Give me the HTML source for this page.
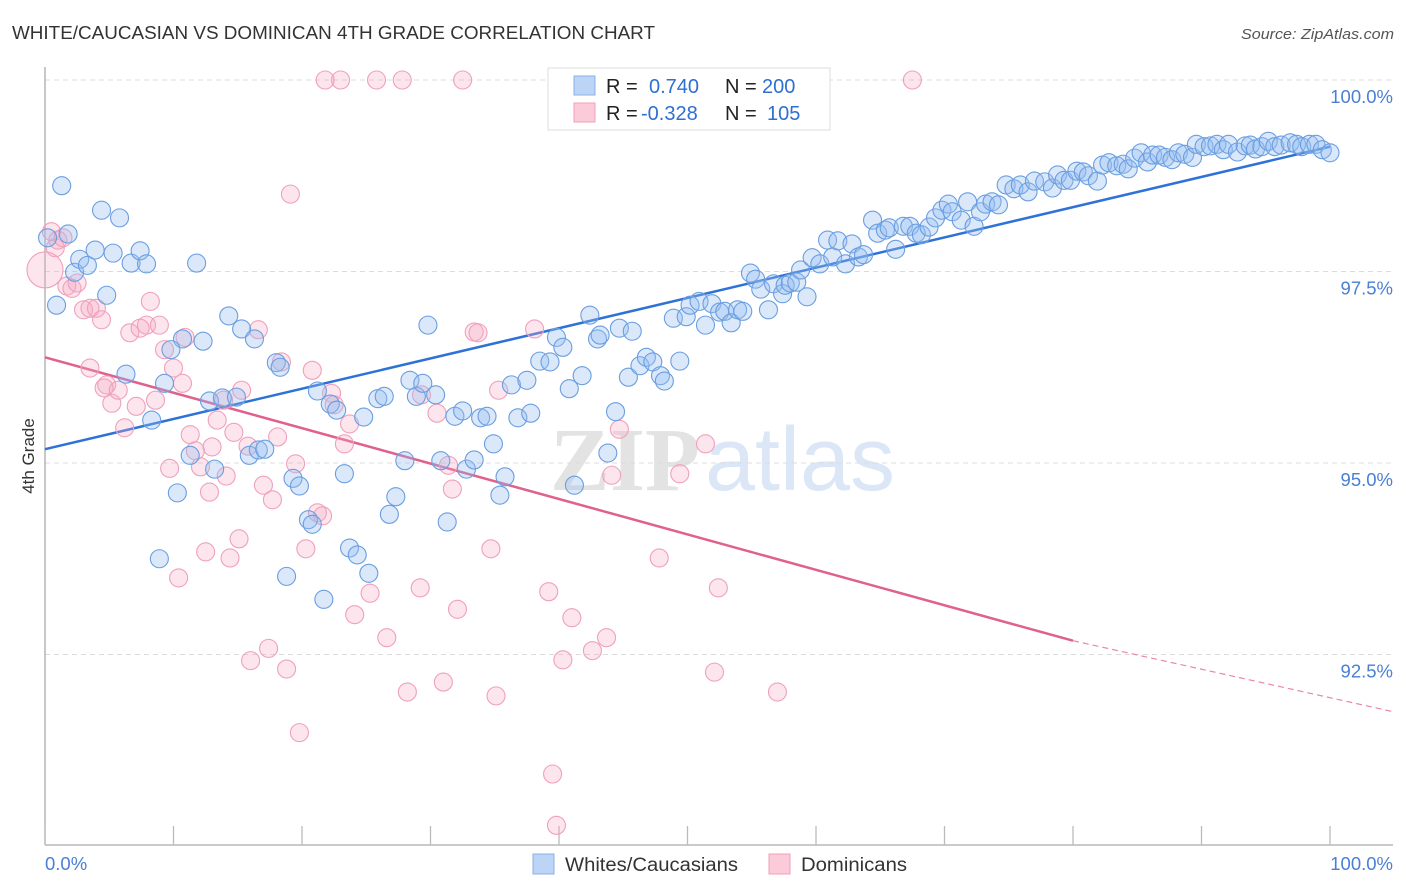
<!DOCTYPE html>
<html><head><meta charset="utf-8"><style>
body{margin:0;background:#fff;font-family:"Liberation Sans",sans-serif;}
svg{display:block}
</style></head><body>
<svg id="chart" width="1406" height="892" xmlns="http://www.w3.org/2000/svg">
<text x="12" y="39" font-size="18" fill="#333" textLength="643" lengthAdjust="spacingAndGlyphs">WHITE/CAUCASIAN VS DOMINICAN 4TH GRADE CORRELATION CHART</text>
<text x="1241" y="39" font-size="15" fill="#555" font-style="italic" textLength="153" lengthAdjust="spacingAndGlyphs">Source: ZipAtlas.com</text>
<g font-size="90" text-anchor="middle">
<text x="625" y="490" fill="#c8c8c8" font-family="Liberation Serif, serif" font-weight="bold" opacity="0.5">ZIP</text>
<text x="800" y="490" fill="#b8d0ee" opacity="0.5">atlas</text>
</g>
<g id="grid"></g>
<g id="axes"></g>
<g id="trend"></g>
<g id="pinkpts"></g>
<g id="bluepts"></g>
<text transform="translate(34,456) rotate(-90)" font-size="17" fill="#333" text-anchor="middle">4th Grade</text>
<g>
<rect x="548" y="68" width="282" height="62" fill="#fff" stroke="#ddd"/>
<rect x="574" y="76" width="21" height="19" fill="#bcd5f6" stroke="#88b0e8"/>
<rect x="574" y="103" width="21" height="19" fill="#fbcbd9" stroke="#f0a0b8"/>
<text x="606" y="93" font-size="20" fill="#222">R = </text><text x="649" y="93" font-size="20" fill="#2f6fd0">0.740</text>
<text x="725" y="93" font-size="20" fill="#222">N = </text><text x="762" y="93" font-size="20" fill="#2f6fd0">200</text>
<text x="606" y="120" font-size="20" fill="#222">R = </text><text x="641" y="120" font-size="20" fill="#2f6fd0">-0.328</text>
<text x="725" y="120" font-size="20" fill="#222">N = </text><text x="767" y="120" font-size="20" fill="#2f6fd0">105</text>
</g>
<g>
<rect x="533" y="854" width="21" height="20" fill="#bcd5f6" stroke="#88b0e8"/>
<text x="565" y="871" font-size="19" fill="#333" textLength="173" lengthAdjust="spacingAndGlyphs">Whites/Caucasians</text>
<rect x="769" y="854" width="21" height="20" fill="#fbcbd9" stroke="#f0a0b8"/>
<text x="801" y="871" font-size="19" fill="#333" textLength="106" lengthAdjust="spacingAndGlyphs">Dominicans</text>
</g>
</svg>
<script>
const blueX=[1.3,0.2,1.8,4.4,5.8,0.9,2.3,2.7,3.3,3.9,5.3,4.8,6.7,7.4,7.9,11.8,6.3,8.3,9.3,10.7,9.8,12.3,10.3,8.9,14.3,15.3,16.3,12.8,13.8,14.9,11.3,13.2,15.9,16.6,17.1,18.0,18.3,18.8,19.3,19.8,20.5,20.8,21.7,21.2,22.2,22.7,23.3,23.7,24.3,25.2,24.8,25.9,26.4,26.8,27.3,28.0,28.4,28.9,29.4,30.4,29.8,30.8,31.3,31.9,32.5,32.8,33.4,33.9,34.4,34.9,35.4,35.8,36.3,36.8,37.5,37.8,38.5,39.3,39.8,40.3,40.8,41.2,41.8,42.4,43.0,43.2,43.8,44.4,44.7,45.4,45.7,46.3,46.8,47.3,47.9,48.2,48.9,49.4,49.9,50.2,50.9,51.4,51.9,52.5,52.9,53.4,53.9,54.3,54.9,55.3,55.7,56.3,56.7,57.4,57.6,58.0,58.5,59.3,58.8,59.7,60.3,60.9,61.3,61.7,62.3,62.8,63.3,63.7,64.4,64.8,65.4,65.7,66.2,66.8,67.3,67.8,68.2,68.8,69.3,69.8,70.3,70.6,71.3,71.8,72.3,72.8,73.2,73.7,74.2,74.8,75.4,75.9,76.5,77.0,77.8,78.4,78.8,79.3,79.8,80.3,80.8,81.2,81.9,82.3,82.8,83.4,83.9,84.3,84.8,85.3,85.8,86.2,86.7,87.2,87.7,88.2,88.7,89.3,89.6,90.2,90.7,91.2,91.7,92.1,92.8,93.4,93.8,94.2,94.7,95.2,95.7,96.2,96.9,97.4,97.8,98.4,98.9,99.4,100.0];
const blueY=[98.62,97.94,97.99,98.30,98.20,97.06,97.49,97.66,97.58,97.78,97.74,97.19,97.61,97.77,97.60,97.61,96.16,95.56,96.04,96.62,96.48,96.59,94.61,93.75,96.92,96.75,96.62,95.81,95.85,95.86,95.10,94.92,95.10,95.17,95.18,96.31,96.25,93.52,94.80,94.70,94.26,94.20,93.22,95.94,95.77,95.69,94.86,93.89,93.80,93.56,95.60,95.84,95.87,94.33,94.56,95.03,96.08,95.87,96.04,95.89,96.80,95.03,94.23,95.61,95.68,94.92,95.04,95.59,95.61,95.25,94.58,94.82,96.02,95.59,96.08,95.65,96.33,96.32,96.64,96.51,95.97,94.71,96.14,96.93,96.62,96.67,95.13,95.67,96.76,96.12,96.72,96.27,96.38,96.32,96.14,96.07,96.89,96.33,96.91,97.06,97.11,96.80,97.08,96.97,96.98,96.83,97.00,96.98,97.48,97.40,97.27,97.00,97.34,97.21,97.32,97.35,97.36,97.17,97.52,97.68,97.60,97.91,97.69,97.90,97.60,97.86,97.69,97.72,98.17,98.00,98.04,98.07,97.79,98.09,98.09,98.00,97.98,98.08,98.20,98.30,98.38,98.28,98.17,98.41,98.09,98.28,98.38,98.41,98.37,98.63,98.58,98.63,98.54,98.68,98.67,98.59,98.76,98.69,98.69,98.81,98.80,98.75,98.68,98.89,98.92,98.88,98.90,98.84,98.98,99.05,98.93,99.02,99.02,98.99,98.96,99.05,99.03,98.99,99.16,99.13,99.14,99.16,99.09,99.16,99.06,99.14,99.15,99.10,99.13,99.20,99.13,99.15,99.18,99.16,99.13,99.16,99.16,99.09,99.05];
const pinkX=[0,0.5,1.0,0.8,1.4,1.7,2.1,2.5,3.0,3.5,4.0,4.4,3.5,4.8,4.6,5.2,5.7,6.2,6.6,7.1,7.4,7.9,8.2,8.6,8.9,9.3,9.7,10.0,10.4,10.7,10.9,11.3,11.7,12.1,12.5,12.8,13.0,13.4,13.9,14.1,14.4,14.7,15.1,15.3,15.8,16.0,16.6,17.0,17.4,17.7,18.1,18.4,18.8,19.1,19.5,19.8,20.3,20.8,21.2,21.6,21.8,22.3,22.5,23.0,23.3,23.7,24.1,25.3,25.8,26.6,27.8,28.2,29.2,29.3,30.5,31.0,31.4,31.7,32.1,32.5,33.4,33.7,34.7,35.1,35.3,38.1,39.2,39.5,39.8,40.3,41.0,42.6,43.7,44.1,44.7,47.8,49.4,51.4,52.1,52.4,57.0,67.5];
const pinkY=[97.52,98.02,97.91,97.81,97.94,97.31,97.28,97.35,97.00,97.02,97.02,96.87,96.24,96.02,95.98,95.78,95.95,95.46,96.70,95.74,96.76,96.80,97.11,95.82,96.80,96.48,94.93,96.24,93.50,96.04,96.64,95.37,95.16,94.95,93.84,94.62,95.21,95.56,95.82,94.83,93.76,95.40,94.01,95.95,95.22,92.42,96.74,94.71,92.58,94.52,95.34,96.32,92.31,98.51,94.99,91.48,93.88,96.21,94.35,94.31,100,95.91,95.76,100,95.25,95.51,93.02,93.30,100,92.72,100,92.01,93.37,95.89,95.65,92.14,94.97,94.66,93.09,100,96.71,96.70,93.88,91.96,95.95,96.75,93.32,90.94,90.27,92.43,92.98,92.55,92.72,94.84,95.44,93.76,94.86,95.25,92.27,93.37,92.01,100];
const blueTrendX=[0,100], blueTrendY=[95.18,99.13];
const pinkTrendX=[0,80], pinkTrendY=[96.38,92.68];
const pinkDashX=[80,105], pinkDashY=[92.68,91.75];
const yTicks=[100,97.5,95,92.5];
const yTickLabels=["100.0%","97.5%","95.0%","92.5%"];
const xTicks=[0,10,20,30,40,50,60,70,80,90,100];

const NS="http://www.w3.org/2000/svg";
const sx=v=>45+v*12.85;
const sy=v=>80+(100-v)*76.6;
function mk(tag,attrs,parent){const e=document.createElementNS(NS,tag);for(const k in attrs)e.setAttribute(k,attrs[k]);parent.appendChild(e);return e;}
const grid=document.getElementById('grid'),axes=document.getElementById('axes');
yTicks.forEach((t,i)=>{
  const l=mk('line',{x1:45,x2:1393,y1:sy(t),y2:sy(t),stroke:'#dcdcdc','stroke-dasharray':'5,4'},grid);
  
  
  const tx=mk('text',{x:1393,y:sy(t)+23,'font-size':18.5,fill:'#4a7fd4','text-anchor':'end'},grid);
  tx.textContent=yTickLabels[i];
  
  
});
const ya=mk('line',{x1:45,x2:45,y1:67,y2:845,stroke:'#aaa','stroke-width':1.3},axes);


const xa=mk('line',{x1:45,x2:1393,y1:845,y2:845,stroke:'#aaa','stroke-width':1.3},axes);


xTicks.forEach(t=>{
  const l=mk('line',{x1:sx(t),x2:sx(t),y1:826,y2:845,stroke:'#bbb','stroke-width':1.3},axes);
  
  
});
const xl0=mk('text',{x:45,y:870,'font-size':18.5,fill:'#4a7fd4'},axes);xl0.textContent='0.0%';


const xl1=mk('text',{x:1393,y:870,'font-size':18.5,fill:'#4a7fd4','text-anchor':'end'},axes);xl1.textContent='100.0%';



const pp=document.getElementById('pinkpts');
pinkX.forEach((x,i)=>{
  const c=mk('circle',{cx:sx(x),cy:sy(pinkY[i]),r:i===0?18:9,fill:'rgba(245,170,195,0.3)',stroke:'#f0a0bb','stroke-width':1.1},pp);
  
  
});
const bp=document.getElementById('bluepts');
blueX.forEach((x,i)=>{
  const c=mk('circle',{cx:sx(x),cy:sy(blueY[i]),r:9,fill:'rgba(150,190,240,0.35)',stroke:'#6a9ee0','stroke-width':1.1},bp);
  
  
});
const tr=document.getElementById('trend');
const b=mk('line',{x1:sx(blueTrendX[0]),y1:sy(blueTrendY[0]),x2:sx(blueTrendX[1]),y2:sy(blueTrendY[1]),stroke:'#2e72d8','stroke-width':2.5},tr);


const p=mk('line',{x1:sx(pinkTrendX[0]),y1:sy(pinkTrendY[0]),x2:sx(pinkTrendX[1]),y2:sy(pinkTrendY[1]),stroke:'#e0608e','stroke-width':2.5},tr);


const pd=mk('line',{x1:sx(pinkDashX[0]),y1:sy(pinkDashY[0]),x2:sx(pinkDashX[1]),y2:sy(pinkDashY[1]),stroke:'#e888a8','stroke-width':1.2,'stroke-dasharray':'6,4'},tr);


</script>
</body></html>
